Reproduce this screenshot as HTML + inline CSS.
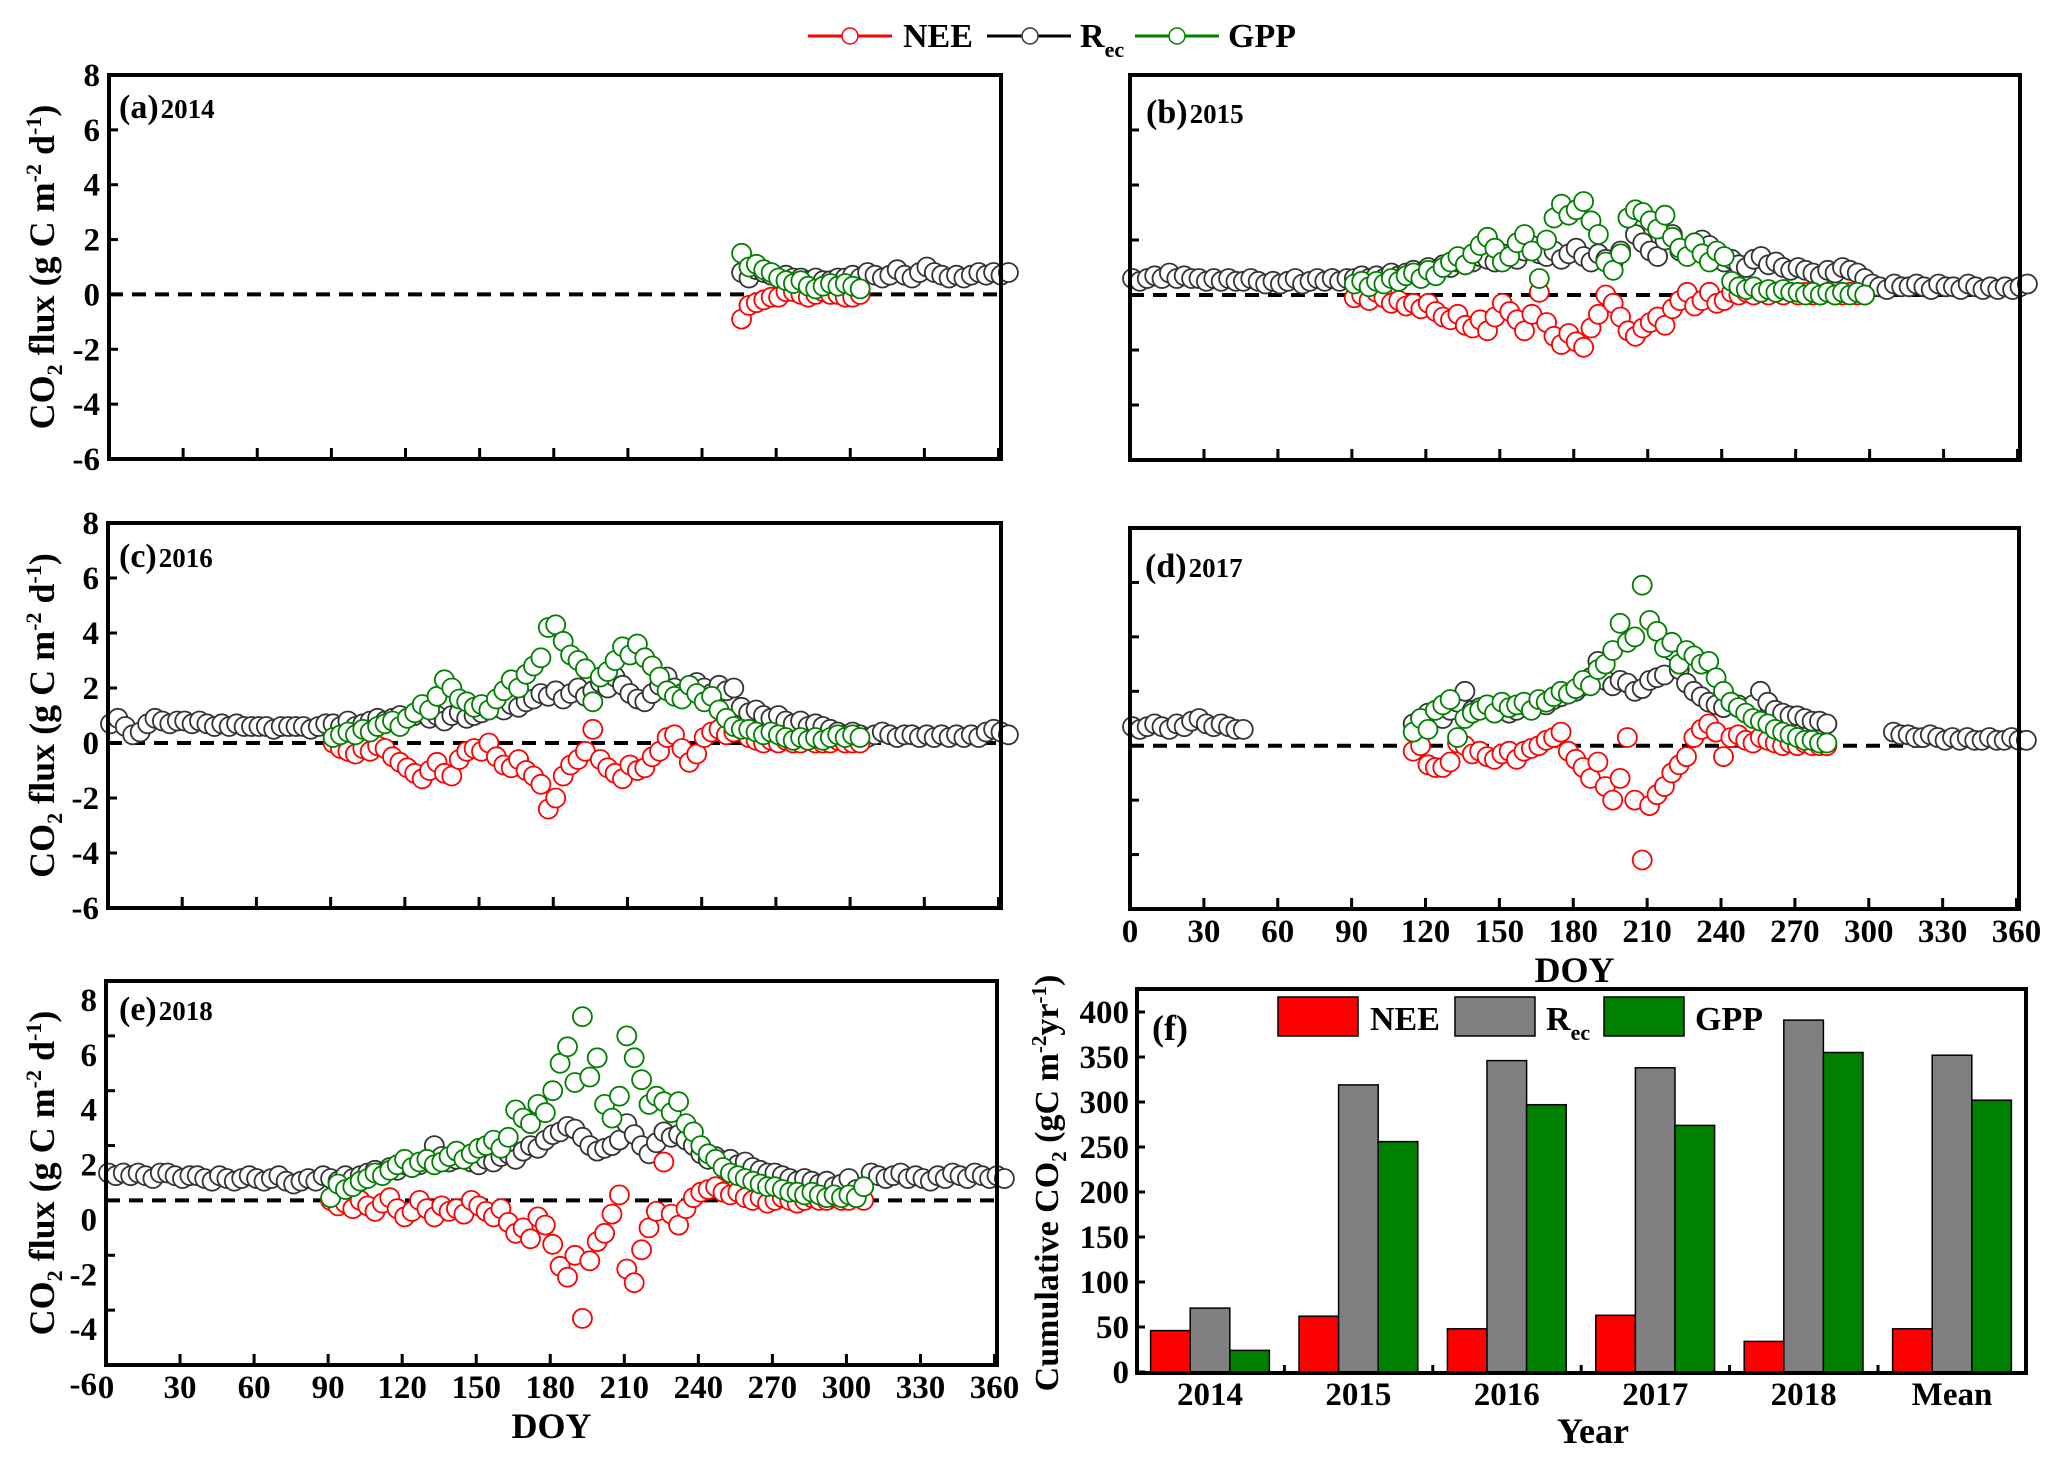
<!DOCTYPE html>
<html><head><meta charset="utf-8"><style>
html,body{margin:0;padding:0;background:#fff}
svg{display:block;font-family:"Liberation Serif",serif;font-weight:bold}
</style></head><body>
<svg id="chart" width="2067" height="1474" viewBox="0 0 2067 1474" xmlns="http://www.w3.org/2000/svg">
<g>
  <line x1="808" y1="36" x2="892" y2="36" stroke="#f00" stroke-width="3"/><circle cx="850" cy="36" r="8" fill="#fff" stroke="#f00" stroke-width="1.5"/>
  <text x="903" y="47" font-size="34">NEE</text>
  <line x1="987" y1="36" x2="1071" y2="36" stroke="#000" stroke-width="3"/><circle cx="1030" cy="36" r="8" fill="#fff" stroke="#333" stroke-width="1.5"/>
  <text x="1080" y="47" font-size="34">R<tspan font-size="22" dy="10">ec</tspan></text>
  <line x1="1135" y1="36" x2="1219" y2="36" stroke="#008000" stroke-width="3"/><circle cx="1177" cy="36" r="8" fill="#fff" stroke="#008000" stroke-width="1.5"/>
  <text x="1228" y="47" font-size="34">GPP</text>
</g>
<g id="plots"></g>
</svg>
<script>
// ---------- time-series data (DOY start, step 3 days) ----------
const step = 3;
const rec2014Start = 256;
const rec2014 = [0.8,0.6,0.9,0.8,0.7,0.6,0.7,0.6,0.6,0.5,0.6,0.5,0.5,0.6,0.6,0.7,0.6,0.8,0.7,0.6,0.7,0.9,0.7,0.6,0.8,1.0,0.8,0.7,0.6,0.7,0.6,0.7,0.8,0.7,0.8,0.7,0.8];
const gpp2014Start = 256;
const gpp2014 = [1.5,1.0,1.1,0.9,0.8,0.6,0.5,0.4,0.5,0.3,0.2,0.3,0.4,0.3,0.4,0.3,0.2];
const nee2014 = [-0.9,-0.4,-0.3,-0.2,-0.1,-0.1,0.1,0.1,0.0,-0.1,0.0,0.1,0.0,0.0,-0.1,-0.1,0.0];

const rec2015 = [0.6,0.5,0.6,0.7,0.6,0.8,0.6,0.7,0.6,0.6,0.5,0.6,0.5,0.6,0.5,0.5,0.6,0.5,0.4,0.5,0.4,0.5,0.6,0.4,0.5,0.6,0.5,0.6,0.5,0.6,
0.6,0.7,0.6,0.7,0.6,0.8,0.7,0.8,0.9,0.8,1.0,0.9,1.1,1.0,1.2,1.1,1.2,1.4,1.3,1.2,1.5,1.4,1.3,1.6,1.8,1.5,1.4,1.6,1.3,1.5,
1.7,1.4,1.2,1.5,1.3,1.2,1.6,2.8,2.2,1.9,1.6,1.4,2.0,2.2,1.6,1.5,1.9,2.0,1.8,1.4,1.2,1.3,1.1,1.0,1.3,1.4,1.1,1.2,1.0,0.9,
1.0,0.9,0.8,0.7,0.9,0.8,1.0,0.9,0.8,0.6,0.4,0.3,0.2,0.4,0.3,0.3,0.4,0.3,0.2,0.4,0.3,0.3,0.2,0.4,0.3,0.2,0.3,0.2,0.3,0.2,0.3,0.4];
const gpp2015 = [0.4,0.5,0.3,0.5,0.4,0.6,0.5,0.7,0.8,0.6,0.9,0.7,1.0,1.2,1.4,1.1,1.5,1.8,2.1,1.7,1.2,1.4,1.9,2.2,1.6,0.6,2.0,2.8,3.3,2.9,
3.1,3.4,2.7,2.2,1.2,0.9,1.5,2.8,3.1,3.0,2.7,2.4,2.9,2.1,1.7,1.4,1.9,1.5,1.2,1.6,1.4,0.5,0.3,0.2,0.3,0.1,0.2,0.1,0.2,0.1,
0.1,0.0,0.1,0.0,0.1,0.0,0.1,0.0,0.1,0.0];
const nee2015 = [-0.1,0.0,-0.2,0.1,-0.1,-0.3,-0.2,-0.4,-0.3,-0.5,-0.3,-0.6,-0.8,-0.9,-0.7,-1.1,-1.2,-0.9,-1.3,-0.8,-0.3,-0.6,-0.9,-1.3,-0.7,0.1,-1.0,-1.5,-1.8,-1.4,
-1.7,-1.9,-1.2,-0.7,0.0,-0.3,-0.8,-1.3,-1.5,-1.2,-1.0,-0.8,-1.1,-0.5,-0.2,0.1,-0.4,-0.2,0.1,-0.3,-0.2,0.1,0.0,0.1,0.0,0.1,0.0,0.1,0.0,0.1,
0.0,0.1,0.0,0.0,0.1,0.0,0.0,0.1,0.0,0.0];

const rec2016 = [0.7,0.9,0.6,0.3,0.4,0.7,0.9,0.8,0.7,0.8,0.8,0.7,0.8,0.7,0.6,0.7,0.6,0.7,0.6,0.6,0.6,0.6,0.5,0.6,0.6,0.6,0.6,0.5,0.6,0.7,
0.7,0.6,0.8,0.6,0.7,0.8,0.9,0.8,0.9,1.0,0.9,1.0,1.1,0.9,1.0,0.8,1.0,1.1,0.9,1.0,1.1,1.2,1.3,1.2,1.4,1.3,1.5,1.6,1.8,1.7,
1.9,1.6,1.8,2.0,1.7,1.9,2.2,2.0,2.4,2.1,1.8,1.6,1.5,1.8,2.1,2.4,2.0,1.8,1.9,2.2,2.0,1.8,2.1,1.9,2.0,1.3,1.1,1.2,1.0,0.9,
1.0,0.8,0.7,0.8,0.6,0.7,0.6,0.5,0.4,0.3,0.4,0.3,0.2,0.3,0.4,0.3,0.2,0.3,0.3,0.2,0.3,0.2,0.3,0.2,0.3,0.2,0.3,0.2,0.4,0.5,0.4,0.3];
const gpp2016 = [0.2,0.3,0.4,0.3,0.5,0.4,0.6,0.7,0.8,0.6,0.9,1.1,1.4,1.2,1.7,2.3,2.0,1.6,1.5,1.3,1.4,1.2,1.6,1.9,2.3,2.0,2.5,2.8,3.1,4.2,
4.3,3.7,3.2,3.0,2.7,1.5,2.4,2.6,3.0,3.5,3.2,3.6,3.1,2.8,2.4,1.9,1.7,1.6,2.1,1.8,1.5,1.7,1.2,0.9,0.6,0.5,0.5,0.4,0.3,0.4,
0.3,0.2,0.1,0.2,0.1,0.2,0.1,0.2,0.3,0.2,0.3,0.2];
const nee2016 = [0.0,-0.2,-0.3,-0.4,-0.2,-0.3,-0.1,-0.2,-0.5,-0.7,-0.9,-1.1,-1.3,-1.0,-0.7,-1.1,-1.2,-0.6,-0.3,-0.2,-0.3,0.0,-0.5,-0.8,-0.9,-0.6,-1.0,-1.2,-1.5,-2.4,
-2.0,-1.2,-0.8,-0.6,-0.3,0.5,-0.6,-0.9,-1.1,-1.3,-0.8,-1.0,-0.9,-0.5,-0.3,0.2,0.3,-0.2,-0.7,-0.4,0.2,0.4,0.5,0.3,0.4,0.5,0.2,0.1,0.0,0.1,
0.0,0.1,0.0,0.0,0.1,0.0,0.0,0.0,0.1,0.0,0.0,0.0];

const rec2017 = [0.7,0.6,0.7,0.8,0.7,0.6,0.8,0.7,0.9,1.0,0.8,0.7,0.8,0.7,0.6,0.6,null,null,null,null,null,null,null,null,null,null,null,null,null,null,
null,null,null,null,null,null,null,null,0.8,1.0,1.2,1.1,1.0,1.3,1.6,2.0,1.3,1.4,1.5,1.3,1.4,1.2,1.3,1.5,1.4,1.6,1.5,1.7,1.8,1.9,
2.0,2.2,2.5,3.1,2.4,2.2,2.4,2.3,2.0,2.1,2.4,2.5,2.6,3.5,2.8,2.3,2.0,1.8,1.6,1.5,1.4,1.6,1.5,1.3,1.5,2.0,1.6,1.3,1.2,1.1,
1.1,1.0,0.9,0.9,0.8,null,null,null,null,null,null,null,null,0.5,0.4,0.4,0.3,0.3,0.4,0.3,0.2,0.3,0.2,0.3,0.2,0.2,0.3,0.2,0.2,0.3,0.2,0.2];
const gpp2017Start = 115;
const gpp2017 = [0.5,1.0,0.6,1.3,1.5,1.7,0.3,1.0,1.2,1.3,1.5,1.2,1.6,1.4,1.5,1.6,1.3,1.7,1.6,1.8,2.0,1.9,
2.1,2.4,2.2,2.8,3.0,3.5,4.5,3.8,4.0,5.9,4.6,4.2,3.6,3.8,3.0,3.5,3.3,3.0,3.1,2.5,2.0,1.6,1.4,1.2,1.0,0.9,0.8,0.6,0.5,0.4,
0.3,0.2,0.2,0.1,0.1];
const nee2017 = [-0.2,0.0,-0.7,-0.8,-0.8,-0.6,0.1,0.0,-0.3,-0.2,-0.4,-0.5,-0.3,-0.2,-0.5,-0.2,-0.1,0.0,0.2,0.3,0.5,-0.2,
-0.5,-0.8,-1.2,-0.6,-1.5,-2.0,-1.2,0.3,-2.0,-4.2,-2.2,-1.8,-1.5,-1.0,-0.7,-0.4,0.3,0.6,0.8,0.5,-0.4,0.3,0.4,0.2,0.1,0.3,0.2,0.1,0.0,0.1,
0.0,0.1,0.0,0.0,0.0];

const rec2018 = [1.0,0.9,1.0,0.9,1.0,0.9,0.8,1.0,1.0,0.9,0.8,0.9,0.9,0.8,0.7,0.9,0.8,0.7,0.8,0.9,0.8,0.7,0.8,0.9,0.7,0.6,0.7,0.8,0.7,0.9,
0.8,0.7,0.9,0.8,0.9,1.0,1.1,1.0,1.2,1.1,1.3,1.2,1.3,1.5,2.0,1.6,1.4,1.5,1.6,1.4,1.3,1.5,1.4,1.6,1.7,1.5,1.8,2.0,1.9,2.2,
2.4,2.5,2.7,2.6,2.3,2.0,1.8,1.9,2.0,2.2,2.8,2.4,2.0,1.7,2.1,2.5,2.3,2.4,2.2,2.0,1.7,1.5,1.6,1.4,1.5,1.3,1.4,1.2,1.1,1.0,
1.0,0.9,0.8,0.7,0.8,0.7,0.6,0.7,0.5,0.6,0.8,0.4,0.5,1.0,0.9,0.8,0.9,1.0,0.8,0.9,0.8,0.7,0.9,0.8,1.0,0.9,0.8,1.0,0.9,0.8,0.9,0.8];
const gpp2018 = [0.1,0.6,0.4,0.5,0.7,0.8,1.0,0.9,1.1,1.3,1.5,1.2,1.4,1.5,1.3,1.4,1.6,1.8,1.5,1.7,1.9,2.0,2.2,1.9,2.3,3.3,3.0,2.8,3.5,3.2,
4.0,5.0,5.6,4.3,6.7,4.5,5.2,3.5,3.0,3.8,6.0,5.2,4.4,3.5,3.8,3.6,3.2,3.6,2.8,2.5,2.0,1.7,1.5,1.2,1.0,0.9,0.8,0.7,0.6,0.5,
0.5,0.4,0.3,0.3,0.2,0.3,0.2,0.1,0.2,0.1,0.2,0.1,0.5];
const nee2018 = [0.0,-0.2,-0.1,-0.3,0.0,-0.2,-0.4,-0.1,0.1,-0.3,-0.6,-0.4,0.0,-0.3,-0.6,-0.2,-0.4,-0.3,-0.5,0.0,-0.2,-0.4,-0.6,-0.3,-0.8,-1.2,-1.0,-1.4,-0.6,-0.9,
-1.6,-2.4,-2.8,-2.0,-4.3,-2.2,-1.5,-1.2,-0.5,0.2,-2.5,-3.0,-1.8,-1.0,-0.4,1.4,-0.5,-0.9,-0.3,0.1,0.3,0.4,0.5,0.3,0.2,0.3,0.1,0.0,0.1,-0.1,
0.0,0.1,0.0,-0.1,0.0,0.1,0.0,0.0,0.1,0.0,0.0,0.1,0.0];

const yTicks = [-6,-4,-2,0,2,4,6,8];
const xTicks = [0,30,60,90,120,150,180,210,240,270,300,330,360];

// ---------- cumulative bar data ----------
const barCategories = ["2014","2015","2016","2017","2018","Mean"];
const cumNEE = [46,62,48,63,34,48];
const cumRec = [71,319,346,338,391,352];
const cumGPP = [24,256,297,274,355,302];
const barTicks = [0,50,100,150,200,250,300,350,400];

const NS = "http://www.w3.org/2000/svg";
const root = document.getElementById("plots");
function mk(tag, attrs, parent){ const e=document.createElementNS(NS,tag); for(const k in attrs) e.setAttribute(k,attrs[k]); (parent||root).appendChild(e); return e; }

const panels = [
 {id:"a", year:"2014", L:109,R:1001,T:75,B:459, yLab:true, xLab:false, rec:rec2014, recStart:rec2014Start, gpp:gpp2014, nee:nee2014, gStart:gpp2014Start, labX:119, labY:118, yOff:0},
 {id:"b", year:"2015", L:1130,R:2020,T:75,B:460, yLab:false, xLab:false, rec:rec2015, recStart:1, gpp:gpp2015, nee:nee2015, gStart:91, labX:1146, labY:123, yOff:0},
 {id:"c", year:"2016", L:108,R:1001,T:523,B:908, yLab:true, xLab:false, rec:rec2016, recStart:1, gpp:gpp2016, nee:nee2016, gStart:91, labX:119, labY:567, yOff:0},
 {id:"d", year:"2017", L:1130,R:2019,T:528,B:909, yLab:false, xLab:true, rec:rec2017, recStart:1, gpp:gpp2017, nee:nee2017, gStart:gpp2017Start, labX:1145, labY:577, yOff:0},
 {id:"e", year:"2018", L:106,R:997,T:981,B:1365, yLab:true, xLab:true, rec:rec2018, recStart:1, gpp:gpp2018, nee:nee2018, gStart:91, labX:119, labY:1020, yOff:19}
];

panels.forEach(p=>{
  const g = mk("g",{});
  
  
  const xs = d => p.L + (d/361)*(p.R-p.L);
  const ys = v => p.B - (v+6)/14*(p.B-p.T);
  const z = mk("line",{x1:p.L,x2:p.R,y1:ys(0),y2:ys(0),stroke:"#000","stroke-width":4,"stroke-dasharray":"14,9"},g);
  
  
  const series = [
    {vals:p.rec, start:p.recStart, color:"#333", name:"rec"},
    {vals:p.nee, start:p.gStart, color:"#ff0000", name:"nee"},
    {vals:p.gpp, start:p.gStart, color:"#008000", name:"gpp"}
  ];
  series.forEach(s=>{
    const sg = mk("g",{},g);
    
    
    s.vals.forEach((v,i)=>{
      if(v===null) return;
      const c = mk("circle",{cx:xs(s.start+i*step).toFixed(1),cy:ys(v).toFixed(1),r:9.5,fill:"#fff",stroke:s.color,"stroke-width":1.8},sg);
      
      
    });
  });
  const f = mk("rect",{x:p.L,y:p.T,width:p.R-p.L,height:p.B-p.T,fill:"none",stroke:"#000","stroke-width":4},g);
  
  
  yTicks.forEach(t=>{
    const y=ys(t);
    mk("line",{x1:p.L,x2:p.L+9,y1:y,y2:y,stroke:"#000","stroke-width":3},g);
    if(p.yLab){
      const tx=mk("text",{x:p.L-9,y:y+p.yOff+11,"text-anchor":"end","font-size":33},g);
      tx.textContent=t;
      
      
    }
  });
  xTicks.forEach(t=>{
    const x=xs(t);
    mk("line",{x1:x,x2:x,y1:p.B,y2:p.B-11,stroke:"#000","stroke-width":3},g);
    if(p.xLab){
      const tx=mk("text",{x:x,y:p.B+33,"text-anchor":"middle","font-size":33},g);
      tx.textContent=t;
      
      
    }
  });
  const pl = mk("text",{x:p.labX,y:p.labY,"font-size":34},g);
  pl.innerHTML = '('+p.id+')<tspan font-size="27" dx="2">'+p.year+'</tspan>';
  
  
  if(p.xLab){
    const dl = mk("text",{x:(p.L+p.R)/2,y:p.B+73,"text-anchor":"middle","font-size":36},g);
    dl.textContent="DOY";
    
    
  }
  if(p.yLab){
    const cy=(p.T+p.B)/2;
    const yl = mk("text",{x:0,y:0,"text-anchor":"middle","font-size":36,transform:"translate(54,"+cy+") rotate(-90)"},g);
    yl.innerHTML='CO<tspan font-size="22" dy="8">2</tspan><tspan dy="-8"> flux (g C m</tspan><tspan font-size="22" dy="-13">-2</tspan><tspan dy="13"> d</tspan><tspan font-size="22" dy="-13">-1</tspan><tspan dy="13">)</tspan>';
    
    
  }
});

// ---------- panel f ----------
(function(){
  const L=1137,R=2026,T=989,B=1373, y0=1372, yTop400=1012;
  const g = mk("g",{});
  
  
  const ys = v => y0 - v/400*(y0-yTop400);
  const groupX = i => 1210 + i*148.4;
  const bw = 39.6;
  const sets = [{vals:cumNEE,color:"#ff0000",name:"nee"},{vals:cumRec,color:"#808080",name:"rec"},{vals:cumGPP,color:"#008000",name:"gpp"}];
  barCategories.forEach((c,i)=>{
    sets.forEach((s,j)=>{
      const x = groupX(i) - 1.5*bw + j*bw;
      const r = mk("rect",{x:x,y:ys(s.vals[i]),width:bw,height:y0-ys(s.vals[i]),fill:s.color,stroke:"#000","stroke-width":1.5},g);
      
      
    });
    const tx = mk("text",{x:groupX(i),y:1405,"text-anchor":"middle","font-size":33},g);
    tx.textContent=c;
    
    
    if(i>0){ mk("line",{x1:groupX(i)-74,x2:groupX(i)-74,y1:B,y2:B-8,stroke:"#000","stroke-width":3},g); }
  });
  const f = mk("rect",{x:L,y:T,width:R-L,height:B-T,fill:"none",stroke:"#000","stroke-width":4},g);
  
  
  barTicks.forEach(t=>{
    const y=ys(t);
    mk("line",{x1:L,x2:L+8,y1:y,y2:y,stroke:"#000","stroke-width":3},g);
    const tx=mk("text",{x:L-8,y:y+11,"text-anchor":"end","font-size":33},g);
    tx.textContent=t;
    
    
  });
  const pl=mk("text",{x:1152,y:1040,"font-size":36},g); pl.textContent="(f)";
  
  
  const leg=[{x:1278,c:"#ff0000",t:'NEE',tx:1370},{x:1455,c:"#808080",t:'R<tspan font-size="22" dy="10">ec</tspan>',tx:1546},{x:1604,c:"#008000",t:'GPP',tx:1695}];
  leg.forEach(l=>{
    const r=mk("rect",{x:l.x,y:997,width:80,height:39,fill:l.c,stroke:"#000","stroke-width":1.5},g);
    
    
    const t=mk("text",{x:l.tx,y:1030,"font-size":34},g); t.innerHTML=l.t;
    
    
  });
  const xl=mk("text",{x:1593,y:1443,"text-anchor":"middle","font-size":36},g); xl.textContent="Year";
  
  
  const yl=mk("text",{x:0,y:0,"text-anchor":"middle","font-size":34,transform:"translate(1058,1183) rotate(-90)"},g);
  yl.innerHTML='Cumulative CO<tspan font-size="21" dy="8">2</tspan><tspan dy="-8"> (gC m</tspan><tspan font-size="21" dy="-12">-2</tspan><tspan dy="12">yr</tspan><tspan font-size="21" dy="-12">-1</tspan><tspan dy="12">)</tspan>';
  
  
})();
</script>
</body></html>
